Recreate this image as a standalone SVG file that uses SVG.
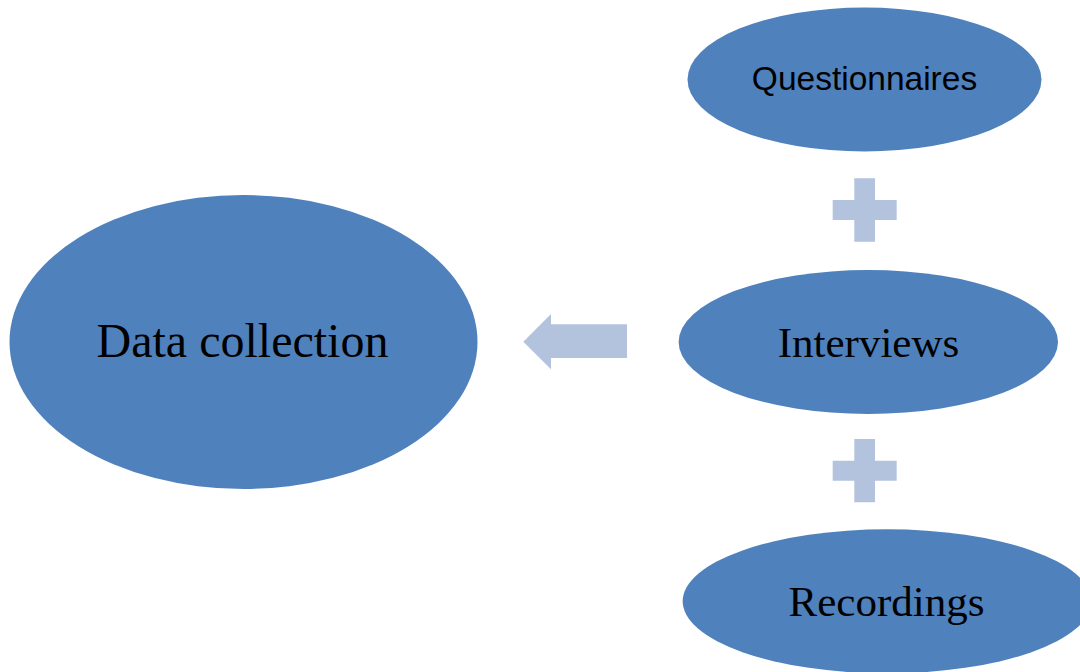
<svg xmlns="http://www.w3.org/2000/svg" width="1080" height="672" viewBox="0 0 1080 672">
<style>
.node{fill:#4F81BD}
.sym{fill:#B3C3DE}
.serif{font-family:"Liberation Serif","Times New Roman",serif;fill:#000}
.sans{font-family:"Liberation Sans",Arial,sans-serif;fill:#000}
</style>
<rect width="1080" height="672" fill="#fff"/>
<g id="data-collection">
<ellipse class="node" cx="243.5" cy="342" rx="234" ry="147"/>
<text class="serif" x="242.5" y="356.5" font-size="48" text-anchor="middle">Data collection</text>
</g>
<g id="questionnaires">
<ellipse class="node" cx="864.5" cy="79.5" rx="177" ry="72"/>
<text class="sans" x="864.5" y="90" font-size="33.5" text-anchor="middle">Questionnaires</text>
</g>
<g id="interviews">
<ellipse class="node" cx="868.3" cy="342" rx="189.7" ry="72"/>
<text class="serif" x="868.5" y="357.3" font-size="43" text-anchor="middle">Interviews</text>
</g>
<g id="recordings">
<ellipse class="node" cx="887" cy="601.3" rx="204.3" ry="72"/>
<text class="serif" x="886.5" y="615.5" font-size="43" text-anchor="middle">Recordings</text>
</g>
<g id="connectors">
<path class="sym" d="M854.3,178.3H875V200H896.7V220H875V241.7H854.3V220H832.7V200H854.3Z"/>
<path class="sym" d="M854.3,439H875V460.7H896.7V480.7H875V502.3H854.3V480.7H832.7V460.7H854.3Z"/>
<path class="sym" d="M523.3,341.7L551,314V324.3H627V358H551V369.3Z"/>
</g>
</svg>
